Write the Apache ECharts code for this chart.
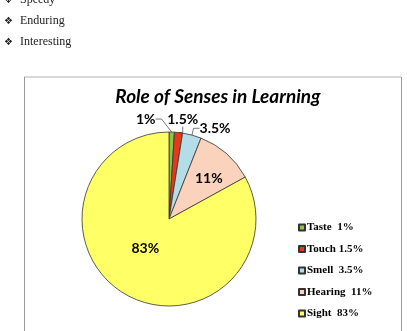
<!DOCTYPE html>
<html><head><meta charset="utf-8">
<script src="https://cdn.jsdelivr.net/npm/echarts@6/dist/echarts.min.js"></script>
<style>html,body{margin:0;padding:0;background:#fff}#c{width:407px;height:331px}</style>
</head><body><div id="c"></div>
<script>
const categories = ['Taste', 'Touch', 'Smell', 'Hearing', 'Sight'];
const values = [1, 1.5, 3.5, 11, 83];
const legendLabels = ['Taste  1%', 'Touch 1.5%', 'Smell  3.5%', 'Hearing  11%', 'Sight  83%'];
const colors = ['#8fc449', '#e4391b', '#b4dde8', '#fbd3bc', '#ffff66'];
const bullets = ['Speedy', 'Enduring', 'Interesting'];
const title = 'Role of Senses in Learning';

// label nudges (pixels) relative to ECharts' default label spot
const labelShift = [[-47, -7], [-23, -7], [-5, -1], [9, -6], [0, -11]];

const chart = echarts.init(document.getElementById('c'));
const insideIdx = [3, 4];
const data = categories.map((n, i) => ({
  name: n, value: values[i],
  itemStyle: { color: colors[i] },
  label: insideIdx.includes(i) ? { position: 'inside' } : { position: 'outside' }
}));
const bulletGraphics = [];
bullets.forEach((b, i) => {
  bulletGraphics.push({ type: 'text', left: 4, top: -5 + i * 21,
    style: { text: '\u2756', font: '10px "DejaVu Sans"', fill: '#222' } });
  bulletGraphics.push({ type: 'text', left: 20, top: -6 + i * 21,
    style: { text: b, font: '12px "Liberation Serif"', fill: '#222' } });
});
chart.setOption({
  animation: false,
  title: {
    text: title, left: 213, top: 82, textAlign: 'center',
    textStyle: { fontFamily: 'Lato', fontStyle: 'italic', fontWeight: 'bold', fontSize: 19, color: '#000' }
  },
  graphic: [
    { type: 'line', shape: { x1: 24, y1: 77, x2: 401, y2: 77 }, style: { stroke: '#d8d8d8', lineWidth: 2 } },
    { type: 'line', shape: { x1: 24.5, y1: 77, x2: 24.5, y2: 340 }, style: { stroke: '#999', lineWidth: 1 } },
    { type: 'line', shape: { x1: 401.5, y1: 77, x2: 401.5, y2: 340 }, style: { stroke: '#999', lineWidth: 1 } }
  ].concat(bulletGraphics),
  legend: {
    orient: 'vertical', left: 293, top: 217, itemWidth: 6, itemHeight: 6, itemGap: 10.5,
    icon: 'rect',
    data: categories,
    formatter: n => legendLabels[categories.indexOf(n)],
    textStyle: { fontFamily: 'Liberation Serif', fontWeight: 'bold', fontSize: 11, color: '#000', padding: [0, 0, 0, -3] }
  },
  series: [{
    type: 'pie', center: [169, 219], radius: 87, startAngle: 90, clockwise: true,
    avoidLabelOverlap: false,
    itemStyle: { borderColor: '#333', borderWidth: 0.8 },
    label: {
      formatter: p => p.value + '%', fontFamily: 'Lato', fontWeight: 'bold', fontSize: 14, color: '#000'
    },
    labelLine: { length: 6, length2: 6, lineStyle: { color: '#555', width: 0.8 } },
    labelLayout: p => {
      const r = p.labelRect, s = labelShift[p.dataIndex];
      return { x: r.x + r.width / 2 + s[0], y: r.y + r.height / 2 + s[1], align: 'center', verticalAlign: 'middle' };
    },
    emphasis: { disabled: true },
    data: data
  }]
});
</script></body></html>
